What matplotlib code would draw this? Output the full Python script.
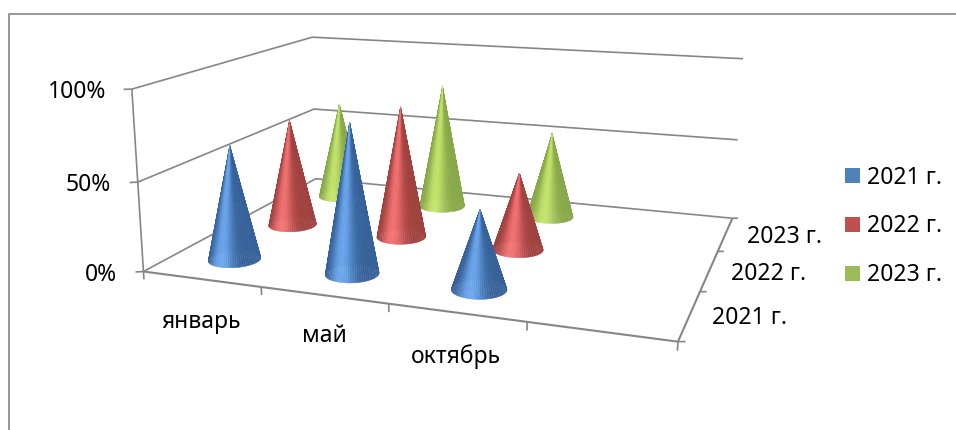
import numpy as np
import matplotlib
matplotlib.use('Agg')
import matplotlib.pyplot as plt
from matplotlib.lines import Line2D
from matplotlib.patches import Patch
from matplotlib.colors import to_rgb
from mpl_toolkits.mplot3d.art3d import Line3DCollection

plt.rcParams['font.family'] = ['Noto Sans', 'DejaVu Sans']

# ---------- data ----------
categories = ['январь', 'май', 'октябрь']
series_names = ['2021 г.', '2022 г.', '2023 г.']
values_2021 = [0.65, 0.83, 0.43]
values_2022 = [0.65, 0.78, 0.45]
values_2023 = [0.62, 0.78, 0.53]
value_ticks = [0.0, 0.5, 1.0]
value_labels = ['0%', '50%', '100%']

# ---------- style ----------
W, H = 956, 430
GREY = '#868686'
FS = 16.5
legend_colors = ['#4F81BD', '#C0504D', '#9BBB59']
dark_colors = ['#376299', '#A04240', '#88A84A']
light_colors = ['#6CA8EE', '#F47272', '#C4E56C']
N_SLOTS = 4
RX, RY = 0.2, 0.21

# Perspective of the chart box: (x, y, z) -> pixel
calib = [(0, 0, 0, 143, 272), (4, 0, 0, 678, 342), (4, 3, 0, 732, 218), (0, 3, 0, 316, 179),
         (0, 0, 1, 132, 89), (0, 3, 1, 312, 37), (4, 3, 1, 743, 59), (0, 0, .5, 138, 182),
         (0, 3, .5, 314, 109), (4, 3, .5, 738, 140), (1, 0, 0, 262, 287), (2, 0, 0, 388, 303),
         (3, 0, 0, 527, 322), (4, 1, 0, 700, 292), (4, 2, 0, 718, 251)]
rows = []
for x, y, z, u, v in calib:
    rows.append([x, y, z, 1, 0, 0, 0, 0, -u * x, -u * y, -u * z, -u])
    rows.append([0, 0, 0, 0, x, y, z, 1, -v * x, -v * y, -v * z, -v])
P = np.linalg.svd(np.array(rows, float))[2][-1].reshape(3, 4)
if P[2, 3] < 0:
    P = -P
M = np.vstack([P[0], H * P[2] - P[1], [0, 1, 0, 0], P[2]])

fig = plt.figure(figsize=(W / 100, H / 100), dpi=100, facecolor='white')
ax = fig.add_axes([0, 0, 1, 1], projection='3d', computed_zorder=False)
ax.set_axis_off()
ax.patch.set_visible(False)
ax.apply_aspect = lambda position=None: None
ax.get_proj = lambda: M
ax.viewLim.intervalx = (0, W)
ax.viewLim.intervaly = (0, H)


def line3(xs, ys, zs, lw=1.2):
    pts = np.column_stack([xs, ys, zs])
    coll = Line3DCollection([pts], colors=GREY, linewidths=lw, zorder=1)
    ax.add_collection3d(coll)


# walls and floor
for z in value_ticks:
    line3([0, 0, N_SLOTS], [0, 3, 3], [z, z, z])
    line3([-0.05, 0], [-0.03, 0], [z, z])
line3([0, 0], [0, 0], [0, 1])
line3([0, N_SLOTS], [0, 0], [0, 0], lw=1.5)
line3([N_SLOTS, N_SLOTS], [0, 3], [0, 0], lw=1.5)
for i in range(N_SLOTS + 1):
    line3([i, i], [0, 0], [-0.045, 0])
for j in range(4):
    line3([N_SLOTS, N_SLOTS + 0.045], [j, j + 0.02], [0, 0])

# cones
all_values = [values_2021, values_2022, values_2023]
theta = np.linspace(0, 2 * np.pi, 73)
tmid = 0.5 * (theta[:-1] + theta[1:])
for j in reversed(range(3)):
    dark = np.array(to_rgb(dark_colors[j]))
    light = np.array(to_rgb(light_colors[j]))
    for i, val in enumerate(all_values[j]):
        cx, cy = i + 0.5, j + 0.5
        X = np.array([cx + RX * np.cos(theta), np.full_like(theta, cx)])
        Y = np.array([cy + RY * np.sin(theta), np.full_like(theta, cy)])
        Z = np.array([np.zeros_like(theta), np.full_like(theta, val)])
        b = np.abs(np.sin(tmid)) ** 8
        cols = np.zeros((1, len(tmid), 3))
        cols[0, :, :] = dark + (light - dark) * b[:, None]
        ax.plot_surface(X, Y, Z, rstride=1, cstride=1, facecolors=cols, shade=False,
                        linewidth=0.3, antialiased=True, zorder=10 + (2 - j))


def ptext(px, py, s, ha='center'):
    fig.text(px / W, 1 - py / H, s, fontsize=FS, ha=ha, va='center', color='black')


# axis labels
value_label_xy = [(117, 275), (111, 185), (106, 92)]
for (px, py), s in zip(value_label_xy, value_labels):
    ptext(px, py, s, ha='right')
cat_label_xy = [(201, 322), (324, 336), (456, 357)]
for (px, py), s in zip(cat_label_xy, categories):
    ptext(px, py, s)
series_label_xy = [(712, 318), (731, 274), (747, 237)]
for (px, py), s in zip(series_label_xy, series_names):
    ptext(px, py, s, ha='left')

# legend
handles = [Patch(facecolor=c, edgecolor='none') for c in legend_colors]
fig.legend(handles, series_names, loc='center left', bbox_to_anchor=(845 / W, 1 - 226.5 / H),
           frameon=False, fontsize=FS, borderpad=0, borderaxespad=0,
           handlelength=0.66, handleheight=0.66, handletextpad=0.3, labelspacing=1.09)

# chart frame (only top and left fall inside the crop)
fig.add_artist(Line2D([8.5 / W, 8.5 / W, 1], [0, 1 - 13.5 / H, 1 - 13.5 / H],
                      transform=fig.transFigure, color=GREY, lw=1.2))

fig.savefig('out.png', dpi=100)
